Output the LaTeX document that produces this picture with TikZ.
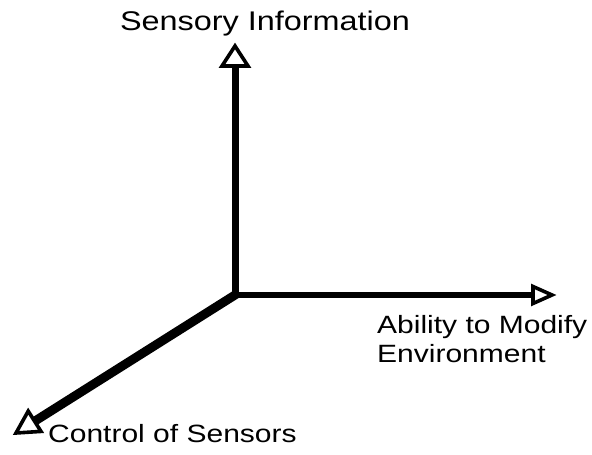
\documentclass[tikz,border=0pt]{standalone}
\usepackage{fontspec}
\newfontfamily\labfont[FakeStretch=1.2]{Liberation Sans}
\usetikzlibrary{calc}
\begin{document}
\begin{tikzpicture}[x=1pt,y=1pt,
  axis/.style={draw=black, line cap=butt},
  head/.style={draw=black, fill=white, line width=3.6pt, line join=miter},
  lab/.style={inner sep=0pt, font=\labfont\fontsize{25}{29}\selectfont}]
\useasboundingbox (0,0) rectangle (592,455);
\coordinate (O) at (235,160);
\coordinate (Ytip) at (235,409);
\coordinate (Xtip) at (552,160);
\coordinate (Ztip) at (16,22);
\coordinate (Yb) at ($(Ytip)!20pt!(O)$);
\coordinate (Xb) at ($(Xtip)!19pt!(O)$);
\coordinate (Zb) at ($(Ztip)!22pt!(O)$);
\draw[axis, line width=7pt] (O) -- (Yb);
\draw[axis, line width=6pt] (O) -- (Xb);
\draw[axis, line width=9pt] ($(O)!-2pt!(Ztip)$) -- (Zb);
\draw[head] (Ytip) -- ($(Yb)!13pt!90:(O)$) -- ($(Yb)!13pt!-90:(O)$) -- cycle;
\draw[head] (Xtip) -- ($(Xb)!8.5pt!90:(O)$) -- ($(Xb)!8.5pt!-90:(O)$) -- cycle;
\draw[head] (Ztip) -- ($(Zb)!12pt!90:(O)$) -- ($(Zb)!12pt!-90:(O)$) -- cycle;
\node[lab, font=\labfont\fontsize{27}{31}\selectfont, anchor=base] (ylab) at (265,424) {Sensory Information};
\node[lab, anchor=north west, align=left] (xlab) at (377,140) {Ability to Modify\\Environment};
\node[lab, anchor=base west] (zlab) at (48,12) {Control of Sensors};
\end{tikzpicture}
\end{document}
